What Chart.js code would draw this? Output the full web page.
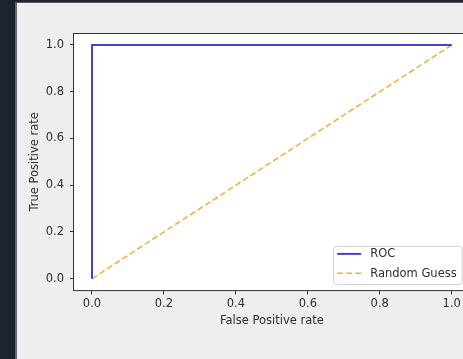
<!DOCTYPE html>
<html>
<head>
<meta charset="utf-8">
<script src="https://cdn.jsdelivr.net/npm/chart.js@4"></script>
<style>
  html, body { margin: 0; padding: 0; width: 463px; height: 359px; overflow: hidden; background: #1b2430; }
  #panel { position: absolute; left: 15px; top: 2px; width: 460px; height: 370px; background: #eeeeee; border-left: 2px solid #666a70; border-top: 1px solid #555a60; }
  #wrap { position: absolute; left: 0; top: 0; width: 480px; height: 359px; }
</style>
</head>
<body>
<div id="panel"></div>
<div id="wrap"><canvas id="rocChart"></canvas></div>
<script>
// data
const rocFpr = [0, 0, 1];
const rocTpr = [0, 1, 1];
const guessFpr = [0, 1];
const guessTpr = [0, 1];
const xTicks = [0, 0.2, 0.4, 0.6, 0.8, 1.0];
const yTicks = [0, 0.2, 0.4, 0.6, 0.8, 1.0];

const FONT = { family: 'DejaVu Sans', size: 11.5 };
const TEXT = '#2e2e2e';

function toPoints(xs, ys){
  return xs.map((x, i) => ({ x, y: ys[i] }));
}

// white axes background + frame
const axesBox = {
  id: 'axesBox',
  beforeDraw(chart){
    const { ctx, chartArea: a } = chart;
    ctx.save();
    ctx.fillStyle = '#ffffff';
    ctx.fillRect(a.left, a.top, a.right - a.left, a.bottom - a.top);
    ctx.restore();
  },
  afterDraw(chart){
    const { ctx, chartArea: a } = chart;
    ctx.save();
    ctx.strokeStyle = '#333333';
    ctx.lineWidth = 1;
    ctx.strokeRect(Math.round(a.left) - 0.5, Math.round(a.top) + 0.5, a.right - a.left, a.bottom - a.top);
    ctx.restore();
  }
};

// matplotlib-like legend in the lower right corner
const boxLegend = {
  id: 'boxLegend',
  afterDraw(chart){
    const { ctx, chartArea: a } = chart;
    const sets = chart.data.datasets;
    ctx.save();
    ctx.font = FONT.size + 'px ' + FONT.family;
    const textW = Math.max(...sets.map(d => ctx.measureText(d.label).width));
    const pad = 4, handle = 24, gap = 9, rowH = 19.3;
    const w = pad + handle + gap + textW + pad + 1;
    const h = 38;
    const right = a.right - 8, bottom = a.bottom - 6.5;
    const left = right - w, top = bottom - h;
    ctx.beginPath();
    ctx.roundRect(left + 0.5, top + 0.5, w, h, 3);
    ctx.fillStyle = 'rgba(255,255,255,0.85)';
    ctx.fill();
    ctx.strokeStyle = '#d0d0d0';
    ctx.lineWidth = 1;
    ctx.stroke();
    sets.forEach((d, i) => {
      const y = top + 8 + i * rowH;
      ctx.beginPath();
      ctx.setLineDash(d.borderDash || []);
      ctx.strokeStyle = d.borderColor;
      ctx.lineWidth = d.borderWidth;
      ctx.moveTo(left + pad, y);
      ctx.lineTo(left + pad + handle, y);
      ctx.stroke();
      ctx.setLineDash([]);
      ctx.fillStyle = TEXT;
      ctx.textBaseline = 'middle';
      ctx.fillText(d.label, left + pad + handle + gap, y + 0.5);
    });
    ctx.restore();
  }
};

const ctx = document.getElementById('rocChart').getContext('2d');
new Chart(ctx, {
  type: 'line',
  data: {
    datasets: [
      {
        label: 'ROC',
        data: toPoints(rocFpr, rocTpr),
        borderColor: '#4343d2',
        borderWidth: 2,
        pointRadius: 0,
        tension: 0,
        fill: false
      },
      {
        label: 'Random Guess',
        data: toPoints(guessFpr, guessTpr),
        borderColor: '#f3b23c',
        borderWidth: 1.6,
        borderDash: [6, 3],
        pointRadius: 0,
        tension: 0,
        fill: false
      }
    ]
  },
  options: {
    responsive: true,
    maintainAspectRatio: false,
    animation: false,
    layout: { padding: { top: 33.3, right: 10.3, left: 0, bottom: 0 } },
    plugins: { legend: { display: false }, tooltip: { enabled: false } },
    scales: {
      x: {
        type: 'linear',
        min: -0.05,
        max: 1.05,
        afterBuildTicks: s => { s.ticks = xTicks.map(v => ({ value: v })); },
        afterFit: s => { s.height = 68.6; },
        ticks: { color: TEXT, font: FONT, padding: 3, maxRotation: 0, callback: v => v.toFixed(1) },
        grid: { drawOnChartArea: false, drawTicks: true, tickLength: 4, color: '#333333', tickColor: '#333333' },
        border: { display: false },
        title: { display: true, text: 'False Positive rate', color: TEXT, font: FONT, padding: { top: 0, bottom: 31 } }
      },
      y: {
        type: 'linear',
        min: -0.05,
        max: 1.05,
        afterBuildTicks: s => { s.ticks = yTicks.map(v => ({ value: v })); },
        afterFit: s => { s.width = 74; },
        ticks: { color: TEXT, font: FONT, padding: 6, callback: v => v.toFixed(1) },
        grid: { drawOnChartArea: false, drawTicks: true, tickLength: 4, color: '#333333', tickColor: '#333333' },
        border: { display: false },
        title: { display: true, text: 'True Positive rate', color: TEXT, font: FONT, padding: { top: 28, bottom: 0 } }
      }
    }
  },
  plugins: [axesBox, boxLegend]
});
</script>
</body>
</html>
